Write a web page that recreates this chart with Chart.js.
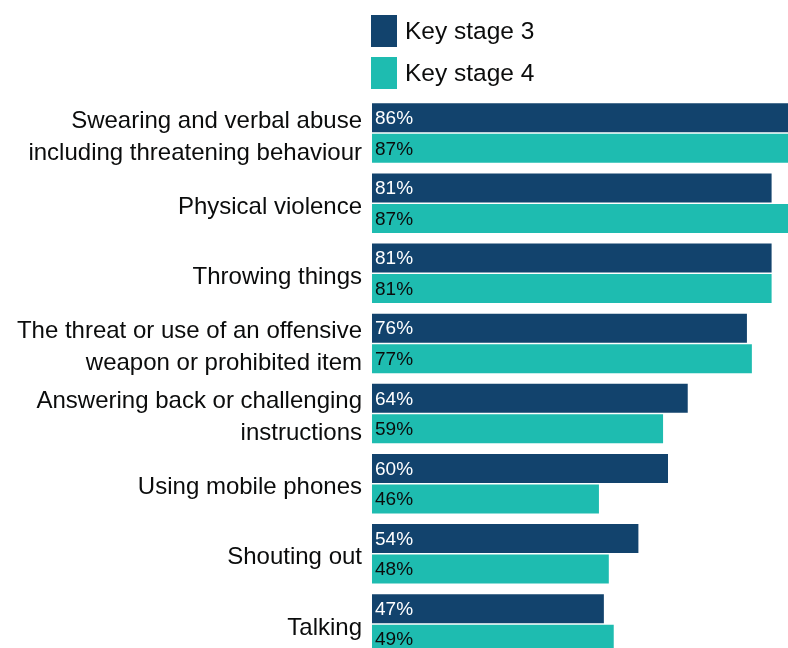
<!DOCTYPE html>
<html>
<head>
<meta charset="utf-8">
<script src="https://cdn.jsdelivr.net/npm/chart.js@4"></script>
<style>
  html, body { margin: 0; padding: 0; background: #fff; overflow: hidden; }
  #wrap { position: relative; width: 788px; height: 648px; overflow: hidden; }
  #box { position: absolute; left: 0; top: 0; width: 816px; height: 659px; }
  #legend { position: absolute; left: 371px; top: 15px; font-family: 'Liberation Sans', Arial, sans-serif; font-size: 24.5px; color: #0b0c0c; }
  .item { display: flex; align-items: center; height: 32px; margin-bottom: 10px; }
  .swatch { width: 26px; height: 32px; margin-right: 8px; }
</style>
</head>
<body>
<div id="wrap">
  <div id="box"><canvas id="chart"></canvas></div>
  <div id="legend"></div>
</div>
<script>
const categories = [
  ['Swearing and verbal abuse', 'including threatening behaviour'],
  'Physical violence',
  'Throwing things',
  ['The threat or use of an offensive', 'weapon or prohibited item'],
  ['Answering back or challenging', 'instructions'],
  'Using mobile phones',
  'Shouting out',
  'Talking'
];
const seriesNames = ['Key stage 3', 'Key stage 4'];
const keyStage3 = [86, 81, 81, 76, 64, 60, 54, 47];
const keyStage4 = [87, 87, 81, 77, 59, 46, 48, 49];
const colours = ['#12436D', '#1EBCB0'];
const labelColours = ['#ffffff', '#0b0c0c'];

// legend, stacked like the original
const legendEl = document.getElementById('legend');
seriesNames.forEach((name, i) => {
  const item = document.createElement('div');
  item.className = 'item';
  item.innerHTML = '<span class="swatch" style="background:' + colours[i] + '"></span><span>' + name + '</span>';
  legendEl.appendChild(item);
});

// value labels at the start of each bar
const barLabels = {
  id: 'barLabels',
  afterDatasetsDraw(chart) {
    const ctx = chart.ctx;
    ctx.save();
    ctx.font = '19px "Liberation Sans", Arial, sans-serif';
    ctx.textBaseline = 'middle';
    ctx.textAlign = 'left';
    chart.data.datasets.forEach((ds, di) => {
      const meta = chart.getDatasetMeta(di);
      ctx.fillStyle = labelColours[di];
      meta.data.forEach((bar, i) => {
        ctx.fillText(ds.data[i] + '%', bar.base + 3, bar.y + 1);
      });
    });
    ctx.restore();
  }
};

new Chart(document.getElementById('chart'), {
  type: 'bar',
  data: {
    labels: categories,
    datasets: [
      { label: seriesNames[0], data: keyStage3, backgroundColor: colours[0] },
      { label: seriesNames[1], data: keyStage4, backgroundColor: colours[1] }
    ]
  },
  options: {
    indexAxis: 'y',
    responsive: true,
    maintainAspectRatio: false,
    animation: false,
    layout: { padding: { top: 98, right: 0, bottom: 0, left: 0 } },
    categoryPercentage: 0.87,
    barPercentage: 0.95,
    plugins: {
      legend: { display: false },
      tooltip: { enabled: false }
    },
    scales: {
      x: {
        display: false,
        min: 0,
        max: 90
      },
      y: {
        grid: { display: false, drawTicks: false },
        border: { display: false },
        ticks: {
          padding: 10,
          labelOffset: 4,
          color: '#0b0c0c',
          font: { family: '"Liberation Sans", Arial, sans-serif', size: 24, lineHeight: 1.33 }
        },
        afterFit: function(scale) {
          scale.width = 372;
          scale.paddingTop = 0;
          scale.paddingBottom = 0;
        }
      }
    }
  },
  plugins: [barLabels]
});
</script>
</body>
</html>
